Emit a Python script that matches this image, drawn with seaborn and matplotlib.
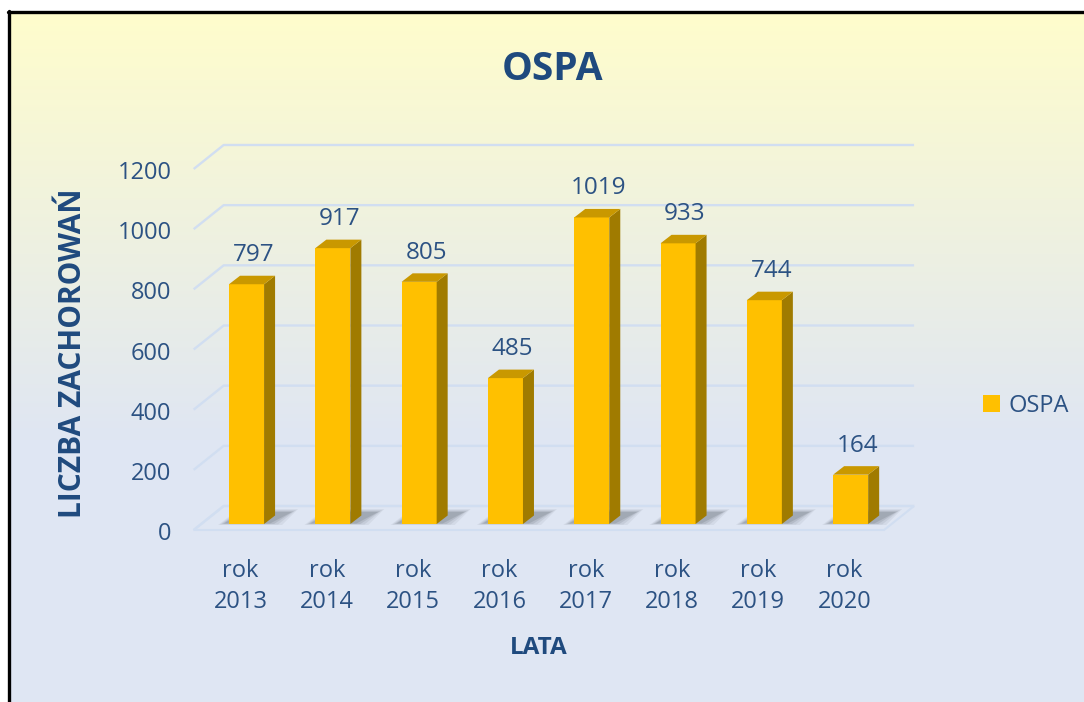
import numpy as np
import pandas as pd
import matplotlib
matplotlib.use("Agg")
import matplotlib.pyplot as plt
import matplotlib.transforms as mtransforms
from matplotlib.patches import Polygon
from matplotlib.lines import Line2D
import seaborn as sns

# ---- data ----
categories = ["rok\n2013", "rok\n2014", "rok\n2015", "rok\n2016",
              "rok\n2017", "rok\n2018", "rok\n2019", "rok\n2020"]
values = [797, 917, 805, 485, 1019, 933, 744, 164]
y_ticks = [0, 200, 400, 600, 800, 1000, 1200]
series_name = "OSPA"
title = "OSPA"
x_title = "LATA"
y_title = "LICZBA ZACHOROWAŃ"

sns.set_theme(style="white")
plt.rcParams["font.family"] = ["Open Sans", "DejaVu Sans"]

W, H = 1084, 702
fig = plt.figure(figsize=(W / 100, H / 100), dpi=100)

BOLD_C = "#1F4A7E"
TXT_C = "#2C5283"
BAR_C = "#FFC000"
TOP_C = "#C99800"
SIDE_C = "#A07B00"
GRID_C = "#D1DEF1"

# ---- background axes in pixel coordinates ----
bg = fig.add_axes([0, 0, 1, 1], zorder=0)
bg.set_xlim(0, W)
bg.set_ylim(H, 0)
bg.axis("off")
top_col = np.array([1.0, 0.992, 0.80])
bot_col = np.array([0.875, 0.902, 0.953])
rows = np.linspace(0, 1, 400)
t = np.clip(rows / 0.62, 0, 1)[:, None]
grad = (1 - t) * top_col + t * bot_col
grad = np.repeat(grad[:, None, :], 2, axis=1)
bg.imshow(grad, extent=[9, W, H, 12], aspect="auto", interpolation="bilinear")
bg.add_line(Line2D([9, 9], [11, H], color="black", lw=2.4))
bg.add_line(Line2D([8, W], [12, 12], color="black", lw=2.4))
bg.text(553, 70, title, ha="center", va="center", fontsize=28,
        fontweight="bold", color=BOLD_C)
bg.text(539, 648, x_title, ha="center", va="center", fontsize=17.5,
        fontweight="bold", color=BOLD_C)
bg.text(73, 353, y_title, ha="center", va="center", fontsize=21.5,
        fontweight="bold", color=BOLD_C, rotation=90)

# ---- main axes ----
ax = fig.add_axes([203.4 / W, (H - 524) / H, 690.4 / W, (524 - 163) / H], zorder=2)
ax.patch.set_alpha(0)
df = pd.DataFrame({"cat": categories, "val": values})
sns.barplot(data=df, x="cat", y="val", color=BAR_C, saturation=1, width=0.406,
            ax=ax, zorder=5, edgecolor="none")
ax.set_xlim(-0.5, 7.5)
ax.set_ylim(0, 1200)
ax.set_yticks(y_ticks)
ax.set_yticklabels([str(v) for v in y_ticks])
ax.set_xlabel("")
ax.set_ylabel("")
for s in ax.spines.values():
    s.set_visible(False)
ax.tick_params(axis="y", length=0, pad=23, labelsize=17, labelcolor=TXT_C)
ax.tick_params(axis="x", length=0, pad=25, labelsize=17, labelcolor=TXT_C)
for lab in ax.get_yticklabels():
    lab.set_transform(lab.get_transform() +
                      mtransforms.ScaledTranslation(0, -7 / 100, fig.dpi_scale_trans))
for lab in ax.get_xticklabels():
    lab.set_linespacing(1.4)
    lab.set_transform(lab.get_transform() +
                      mtransforms.ScaledTranslation(-6 / 100, 0, fig.dpi_scale_trans))

fig.canvas.draw()
td = ax.transData
inv = td.inverted()


def px(xd, yd, dx=0.0, dy=0.0):
    p = td.transform((xd, yd))
    return inv.transform((p[0] + dx, p[1] + dy))


# depth offsets in pixels
FX, FY = -8, -6
BX, BY = 22, 18
X0, X1 = -0.52, 7.48

# floor
floor = [px(X0, 0, FX, FY), px(X1, 0, FX, FY), px(X1, 0, BX, BY), px(X0, 0, BX, BY)]
ax.add_patch(Polygon(floor, closed=True, facecolor="none", edgecolor=GRID_C,
                     lw=1.5, zorder=1, clip_on=False))
# gridlines (wall)
for v in y_ticks:
    a = px(X0, v, FX, FY)
    b = px(X0, v, BX, BY)
    c = px(X1, v, BX, BY)
    ax.plot([a[0], b[0], c[0]], [a[1], b[1], c[1]], color=GRID_C, lw=1.7,
            zorder=1, clip_on=False, solid_capstyle="butt")

# bar 3D faces, shadows and labels
DX, DY = 11, 8.5
for patch, v in zip(ax.patches[:len(values)], values):
    x0 = patch.get_x()
    x1 = x0 + patch.get_width()
    h = patch.get_height()
    for k, a in enumerate([0.08, 0.10, 0.14, 0.18]):
        g = 4 - k
        sh = [px(x0, 0, -3 - 2 * g, 1 - g * 0.5), px(x1, 0, 2 + 4 * g, 1 - g * 0.5),
              px(x1, 0, 26 + 2 * g, 11 + g), px(x0, 0, 14 - g, 11 + g)]
        ax.add_patch(Polygon(sh, closed=True, facecolor="#505860", edgecolor="none",
                             alpha=a, zorder=3, clip_on=False))
    side = [px(x1, 0), px(x1, 0, DX, DY), px(x1, h, DX, DY), px(x1, h)]
    top = [px(x0, h), px(x1, h), px(x1, h, DX, DY), px(x0, h, DX, DY)]
    ax.add_patch(Polygon(side, closed=True, facecolor=SIDE_C, edgecolor="none",
                         zorder=5, clip_on=False))
    ax.add_patch(Polygon(top, closed=True, facecolor=TOP_C, edgecolor="none",
                         zorder=5, clip_on=False))
    lx, ly = px((x0 + x1) / 2, h, 7, 29)
    ax.text(lx, ly, f"{v}", ha="center", va="center", fontsize=17.5,
            color=TXT_C, zorder=6, clip_on=False)

# legend
handle = plt.Rectangle((0, 0), 1, 1, facecolor=BAR_C, edgecolor="none")
fig.legend([handle], [series_name], loc="center left",
           bbox_to_anchor=(962 / W, (H - 406) / H), frameon=False,
           fontsize=17, labelcolor=TXT_C, handlelength=0.7, handleheight=0.7,
           handletextpad=0.35)

fig.savefig("out.png", dpi=100)
